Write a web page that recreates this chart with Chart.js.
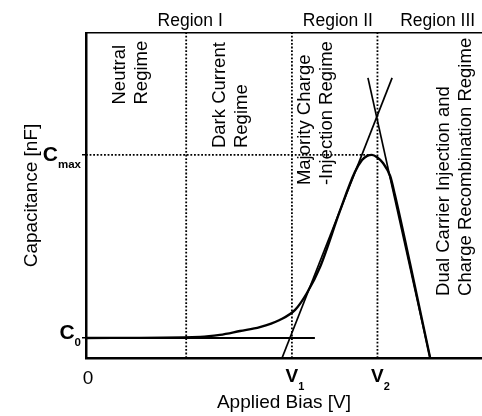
<!DOCTYPE html>
<html>
<head>
<meta charset="utf-8">
<script src="https://cdn.jsdelivr.net/npm/chart.js"></script>
<style>
  html, body { margin: 0; padding: 0; background: #fff; }
  #wrap { width: 482px; height: 416px; }
</style>
</head>
<body>
<div id="wrap"><canvas id="cv" width="482" height="416"></canvas></div>
<script>
// C-V curve (bias in arbitrary units 0..100, capacitance 0..100)
const curveBias = [0, 28.8, 33.8, 38.9, 43.9, 48.9, 52.8, 55.8, 59.1, 64.1, 67.9, 69.7, 71.0, 72.2, 73.5, 75.0, 76.8, 78.0, 81.8, 86.9];
const curveCap  = [6.15, 6.5, 7.1, 8.3, 9.5, 11.7, 14.8, 20.0, 28.0, 45.2, 57.2, 60.9, 62.2, 62.5, 61.8, 60.0, 56.0, 50.2, 29.2, 0];

// tangent lines crossing at V2
const riseBias = [49.5, 77.3];
const riseCap  = [0, 86.2];
const fallBias = [71.2, 86.9];
const fallCap  = [86.2, 0];

// baseline capacitance and peak
const c0Value = 6.15;
const c0LineEnd = 57.8;
const cMaxValue = 62.5;
const cMaxBias = 72.2;

// regime boundaries
const darkStart = 25.3;
const v1 = 52.0;
const v2 = 73.6;

const regionNames = ['Region I', 'Region II', 'Region III'];
const regionCenters = [26.3, 63.6, 88.8];
const regimeLabels = [
  ['Neutral', 'Regime'],
  ['Dark Current', 'Regime'],
  ['Majority Charge', '-Injection Regime'],
  ['Dual Carrier Injection and', 'Charge Recombination Regime']
];

const family = '"Liberation Sans", Arial, Helvetica, sans-serif';
Chart.defaults.font.family = family;
Chart.defaults.color = '#000';

const pts = (xs, ys) => xs.map((v, i) => ({ x: v, y: ys[i] }));

const dotted = (data) => ({
  data, borderColor: '#000', borderWidth: 1.8, borderDash: [1.8, 1.8],
  pointRadius: 0, fill: false
});
const solid = (data, w) => ({
  data, borderColor: '#000', borderWidth: w, pointRadius: 0, fill: false
});

// where the rotated regime captions sit (bias value of first line, capacitance at text start)
const regimePos = [
  { x: 8.6, y: 78.0 },
  { x: 33.8, y: 64.6 },
  { x: 55.3, y: 53.2 },
  { x: 90.4, y: 19.1 }
];

function drawSub(ctx, main, sub, left, cy, mainFont, subFont, subDy) {
  ctx.font = mainFont;
  ctx.textAlign = 'left';
  ctx.textBaseline = 'middle';
  ctx.fillText(main, left, cy);
  const w = ctx.measureText(main).width;
  ctx.font = subFont;
  ctx.textBaseline = 'alphabetic';
  ctx.fillText(sub, left + w, cy + subDy);
}

function subWidth(ctx, main, sub, mainFont, subFont) {
  ctx.font = mainFont;
  const a = ctx.measureText(main).width;
  ctx.font = subFont;
  return a + ctx.measureText(sub).width;
}

const annotations = {
  id: 'annotations',
  afterDraw(chart) {
    const { ctx, chartArea } = chart;
    const x = chart.scales.x, y = chart.scales.y;
    ctx.save();
    ctx.fillStyle = '#000';

    // region headings above the frame
    ctx.font = '17.5px ' + family;
    ctx.textAlign = 'center';
    ctx.textBaseline = 'alphabetic';
    regionNames.forEach((name, i) => {
      ctx.fillText(name, x.getPixelForValue(regionCenters[i]), chartArea.top - 7);
    });

    // vertical regime captions
    ctx.font = '18.5px ' + family;
    ctx.textAlign = 'left';
    ctx.textBaseline = 'middle';
    regimeLabels.forEach((lines, i) => {
      const px = x.getPixelForValue(regimePos[i].x);
      const py = y.getPixelForValue(regimePos[i].y);
      lines.forEach((line, j) => {
        ctx.save();
        ctx.translate(px + j * 22, py);
        ctx.rotate(-Math.PI / 2);
        ctx.fillText(line, 0, 0);
        ctx.restore();
      });
    });

    // C0 / Cmax on the capacitance axis
    const bigC = 'bold 21px ' + family;
    const smallC = 'bold 11.5px ' + family;
    [[cMaxValue, 'max', 0, 13], [c0Value, '0', -5, 8]].forEach(([v, s, dy, sdy]) => {
      const w = subWidth(ctx, 'C', s, bigC, smallC);
      const cy = y.getPixelForValue(v) + dy;
      drawSub(ctx, 'C', s, chartArea.left - 5 - w, cy, bigC, smallC, sdy - dy);
    });

    // bias ticks: 0, V1, V2
    const baseY = chartArea.bottom + 19;
    ctx.font = '19px ' + family;
    ctx.textAlign = 'center';
    ctx.textBaseline = 'middle';
    ctx.fillText('0', x.getPixelForValue(0) + 2, baseY + 2);
    const bigV = 'bold 19px ' + family;
    const smallV = 'bold 11px ' + family;
    [[v1, '1'], [v2, '2']].forEach(([v, s]) => {
      ctx.font = bigV;
      const vw = ctx.measureText('V').width;
      drawSub(ctx, 'V', s, x.getPixelForValue(v) - vw / 2, baseY, bigV, smallV, 13);
    });

    ctx.restore();
  }
};

new Chart(document.getElementById('cv'), {
  type: 'line',
  data: {
    datasets: [
      dotted(pts([darkStart, darkStart], [0, 100])),
      dotted(pts([v1, v1], [0, 100])),
      dotted(pts([v2, v2], [0, 100])),
      dotted(pts([0, cMaxBias], [cMaxValue, cMaxValue])),
      solid(pts([0, c0LineEnd], [c0Value, c0Value]), 2.2),
      solid(pts(riseBias, riseCap), 1.7),
      solid(pts(fallBias, fallCap), 1.7),
      Object.assign(solid(pts(curveBias, curveCap), 2.4), { cubicInterpolationMode: 'monotone' })
    ]
  },
  options: {
    responsive: false,
    animation: false,
    layout: { padding: { top: 33, left: 0, right: 0, bottom: 0 } },
    plugins: { legend: { display: false }, tooltip: { enabled: false } },
    scales: {
      x: {
        type: 'linear', position: 'bottom', min: 0, max: 100,
        grid: { display: false },
        border: { color: '#000', width: 2.5 },
        ticks: { display: false },
        title: { display: true, text: 'Applied Bias [V]', font: { size: 19 }, color: '#000', padding: { top: 0, bottom: 2 } },
        afterFit(scale) { scale.height = 58; }
      },
      xTop: {
        type: 'linear', position: 'top', min: 0, max: 100,
        grid: { display: false },
        border: { color: '#000', width: 1.5 },
        ticks: { display: false },
        afterFit(scale) { scale.height = 0; }
      },
      y: {
        type: 'linear', min: 0, max: 100,
        afterBuildTicks(scale) { scale.ticks = [{ value: c0Value }, { value: cMaxValue }]; },
        grid: { drawOnChartArea: false, drawTicks: true, tickLength: 4, color: '#000', lineWidth: 1.5 },
        border: { color: '#000', width: 2.5 },
        ticks: { display: false },
        title: { display: true, text: 'Capacitance [nF]', font: { size: 19 }, color: '#000', padding: { top: 20, bottom: 0 } },
        afterFit(scale) { scale.width = 86; }
      }
    }
  },
  plugins: [annotations]
});
</script>
</body>
</html>
